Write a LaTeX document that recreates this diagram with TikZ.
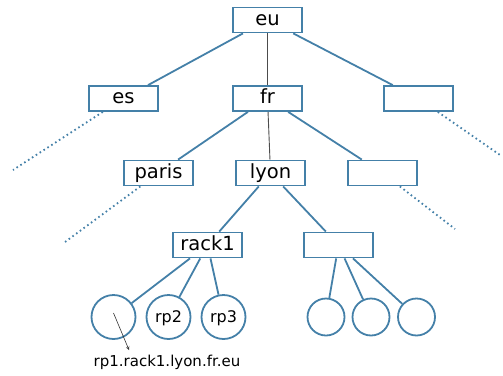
\documentclass[tikz,border=0pt]{standalone}
\usepackage{fontspec}
\setmainfont{DejaVu Sans}
\usetikzlibrary{arrows}
\definecolor{zoneblue}{RGB}{68,128,168}

\begin{document}
\begin{tikzpicture}[x=1pt,y=-1pt,
zone/.style={draw=zoneblue,line width=1.8pt,minimum width=69pt,minimum height=25pt,inner sep=0pt,text height=14pt,text depth=3.4pt,font=\fontsize{19.5}{23}\selectfont},
host/.style={circle,draw=zoneblue,line width=1.8pt,inner sep=0pt,text height=11.7pt,text depth=0pt,font=\fontsize{16}{19}\selectfont},
link/.style={draw=zoneblue,line width=1.8pt},
spine/.style={draw=black!70,line width=0.9pt},
far/.style={draw=zoneblue,line width=1.8pt,dash pattern=on 1.6pt off 3pt}]

\useasboundingbox (0,0) rectangle (503,375);

\coordinate (0) at (13,170);
\coordinate (1) at (500,155);
\coordinate (2) at (65,242);
\coordinate (3) at (455,229);
\coordinate (4) at (129,350);

\node[zone] (A) at (267.5,20) {eu};
\node[zone] (B) at (123.5,98.5) {es};
\node[zone] (C) at (267.5,98.5) {fr};
\node[zone] (D) at (418.5,98.5) {};
\node[zone] (E) at (158.5,173) {paris};
\node[zone] (F) at (270.5,173) {lyon};
\node[zone] (G) at (382.5,173) {};
\node[zone] (H) at (207.5,245) {rack1};
\node[zone] (I) at (338.5,245) {};
\node[host,minimum size=44pt] (J) at (113.5,317) {};
\node[host,minimum size=44pt] (K) at (168.5,317) {rp2};
\node[host,minimum size=44pt] (L) at (223.5,317) {rp3};
\node[host,minimum size=37pt] (M) at (326,317) {};
\node[host,minimum size=37pt] (N) at (371,317) {};
\node[host,minimum size=37pt] (O) at (416.5,317) {};
\node[font=\fontsize{15}{18}\selectfont] (P) at (167,362) {rp1.rack1.lyon.fr.eu};

\draw[link] (A) -- (B);
\draw[spine] (A) -- (C);
\draw[link] (A) -- (D);
\draw[link] (C) -- (E);
\draw[spine] (C) -- (F);
\draw[link] (C) -- (G);
\draw[link] (F) -- (H);
\draw[link] (F) -- (I);
\draw[link] (H) -- (J);
\draw[link] (H) -- (K);
\draw[link] (H) -- (L);
\draw[link] (I) -- (M);
\draw[link] (I) -- (N);
\draw[link] (I) -- (O);
\draw[far] (B) -- (0);
\draw[far] (D) -- (1);
\draw[far] (E) -- (2);
\draw[far] (G) -- (3);
\draw[-stealth,black!80,line width=0.6pt] ([yshift=4pt]J.center) -- (4);
\end{tikzpicture}
\end{document}
